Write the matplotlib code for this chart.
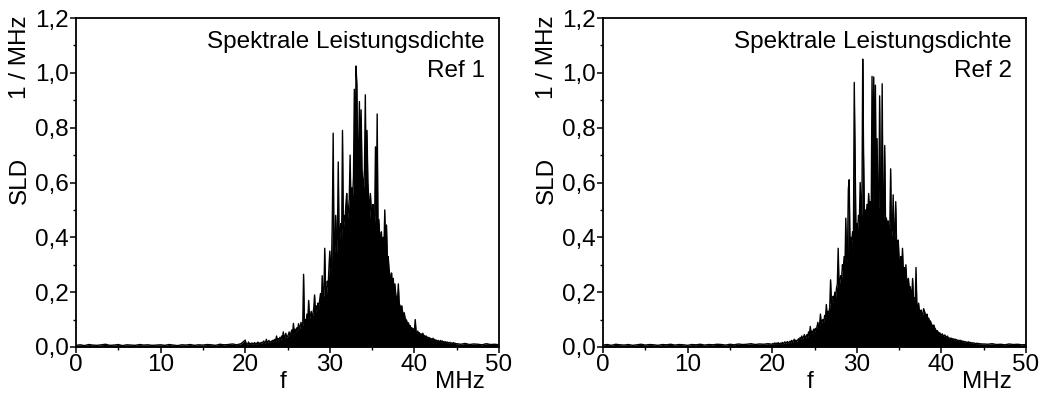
import numpy as np
import matplotlib
matplotlib.use("Agg")
import matplotlib.pyplot as plt
from matplotlib.ticker import MultipleLocator, FuncFormatter

plt.rcParams['font.family'] = ['Liberation Sans', 'DejaVu Sans']

# baseline (0.5 MHz steps) outside the active band
base_lo_1 = [0.006, 0.008, 0.005, 0.009, 0.007, 0.006, 0.008, 0.010, 0.006, 0.007,
             0.009, 0.005, 0.008, 0.007, 0.006, 0.009, 0.007, 0.008, 0.006, 0.007,
             0.008, 0.006, 0.009, 0.007, 0.005, 0.008, 0.007, 0.009, 0.006, 0.008,
             0.007, 0.009, 0.008, 0.006, 0.010, 0.008, 0.009, 0.011, 0.008, 0.012]
base_hi_1 = [0.012, 0.010, 0.013, 0.009, 0.011, 0.010, 0.008, 0.012, 0.009, 0.010, 0.008]

base_lo_2 = [0.007, 0.009, 0.006, 0.010, 0.008, 0.007, 0.009, 0.006, 0.008, 0.010,
             0.007, 0.009, 0.008, 0.006, 0.009, 0.008, 0.010, 0.007, 0.009, 0.008,
             0.006, 0.009, 0.008, 0.010, 0.007, 0.009, 0.008, 0.010, 0.009, 0.007,
             0.010, 0.008, 0.011, 0.009, 0.010, 0.012, 0.009, 0.011, 0.010, 0.012]
base_hi_2 = [0.011, 0.010, 0.012, 0.009, 0.010, 0.008, 0.011, 0.009, 0.010, 0.008, 0.009]

# 20.0 .. 44.9 MHz, 0.1 MHz steps, one row per MHz
band_1 = [
    0.025, 0.014, 0.008, 0.012, 0.018, 0.010, 0.013, 0.009, 0.015, 0.011,
    0.012, 0.016, 0.010, 0.014, 0.011, 0.018, 0.013, 0.015, 0.012, 0.017,
    0.014, 0.018, 0.022, 0.013, 0.016, 0.028, 0.015, 0.019, 0.024, 0.017,
    0.018, 0.022, 0.016, 0.025, 0.020, 0.028, 0.019, 0.040, 0.024, 0.030,
    0.028, 0.035, 0.025, 0.040, 0.030, 0.055, 0.033, 0.038, 0.050, 0.036,
    0.038, 0.045, 0.055, 0.040, 0.050, 0.062, 0.045, 0.086, 0.048, 0.065,
    0.055, 0.070, 0.060, 0.085, 0.065, 0.075, 0.090, 0.070, 0.080, 0.265,
    0.085, 0.100, 0.090, 0.120, 0.095, 0.170, 0.105, 0.115, 0.130, 0.110,
    0.120, 0.140, 0.190, 0.125, 0.150, 0.135, 0.160, 0.145, 0.170, 0.195,
    0.150, 0.260, 0.175, 0.190, 0.360, 0.210, 0.185, 0.240, 0.220, 0.290,
    0.350, 0.280, 0.300, 0.470, 0.780, 0.320, 0.360, 0.480, 0.340, 0.400,
    0.675, 0.380, 0.420, 0.450, 0.400, 0.790, 0.430, 0.480, 0.460, 0.520,
    0.560, 0.470, 0.500, 0.540, 0.700, 0.520, 0.580, 0.550, 0.620, 0.940,
    0.600, 1.025, 0.955, 0.640, 0.700, 0.895, 0.620, 0.865, 0.650, 0.600,
    0.580, 0.650, 0.920, 0.560, 0.790, 0.600, 0.540, 0.470, 0.560, 0.500,
    0.480, 0.520, 0.450, 0.460, 0.730, 0.480, 0.850, 0.420, 0.465, 0.400,
    0.380, 0.420, 0.350, 0.400, 0.360, 0.500, 0.340, 0.445, 0.320, 0.330,
    0.285, 0.260, 0.240, 0.270, 0.220, 0.250, 0.200, 0.230, 0.190, 0.180,
    0.170, 0.230, 0.160, 0.150, 0.140, 0.150, 0.130, 0.110, 0.125, 0.105,
    0.100, 0.095, 0.080, 0.088, 0.072, 0.078, 0.065, 0.070, 0.060, 0.066,
    0.060, 0.100, 0.055, 0.050, 0.058, 0.045, 0.052, 0.042, 0.048, 0.040,
    0.050, 0.038, 0.042, 0.035, 0.040, 0.032, 0.036, 0.030, 0.034, 0.028,
    0.030, 0.026, 0.032, 0.024, 0.028, 0.022, 0.025, 0.020, 0.024, 0.021,
    0.020, 0.024, 0.018, 0.022, 0.017, 0.020, 0.016, 0.019, 0.015, 0.018,
    0.016, 0.014, 0.017, 0.013, 0.015, 0.012, 0.016, 0.013, 0.014, 0.012,
]

band_2 = [
    0.010, 0.013, 0.009, 0.015, 0.011, 0.014, 0.010, 0.016, 0.012, 0.013,
    0.014, 0.011, 0.017, 0.012, 0.015, 0.019, 0.013, 0.016, 0.020, 0.014,
    0.017, 0.021, 0.015, 0.024, 0.018, 0.022, 0.028, 0.019, 0.025, 0.021,
    0.024, 0.030, 0.022, 0.035, 0.027, 0.040, 0.030, 0.036, 0.045, 0.032,
    0.038, 0.045, 0.035, 0.055, 0.042, 0.075, 0.048, 0.058, 0.050, 0.065,
    0.055, 0.068, 0.060, 0.075, 0.090, 0.065, 0.080, 0.120, 0.085, 0.095,
    0.100, 0.090, 0.115, 0.105, 0.155, 0.110, 0.130, 0.120, 0.145, 0.245,
    0.160, 0.150, 0.185, 0.170, 0.200, 0.180, 0.215, 0.230, 0.360, 0.220,
    0.240, 0.260, 0.250, 0.300, 0.280, 0.330, 0.290, 0.470, 0.310, 0.340,
    0.575, 0.610, 0.360, 0.400, 0.380, 0.420, 0.390, 0.965, 0.680, 0.420,
    0.450, 0.430, 0.480, 0.460, 0.600, 0.500, 0.470, 1.050, 0.705, 0.480,
    0.500, 0.460, 0.520, 0.480, 0.560, 0.490, 0.530, 0.470, 0.987, 0.500,
    0.985, 0.540, 0.955, 0.510, 0.760, 0.480, 0.520, 0.916, 0.500, 0.470,
    0.960, 0.480, 0.450, 0.735, 0.440, 0.470, 0.430, 0.460, 0.410, 0.440,
    0.650, 0.400, 0.430, 0.555, 0.390, 0.410, 0.530, 0.380, 0.360, 0.390,
    0.320, 0.300, 0.330, 0.280, 0.360, 0.270, 0.290, 0.250, 0.300, 0.240,
    0.230, 0.250, 0.210, 0.220, 0.200, 0.190, 0.250, 0.170, 0.180, 0.160,
    0.290, 0.150, 0.140, 0.160, 0.130, 0.125, 0.135, 0.115, 0.120, 0.140,
    0.130, 0.120, 0.110, 0.120, 0.100, 0.105, 0.090, 0.095, 0.085, 0.080,
    0.075, 0.080, 0.070, 0.065, 0.053, 0.060, 0.055, 0.050, 0.052, 0.046,
    0.045, 0.048, 0.042, 0.040, 0.044, 0.038, 0.036, 0.040, 0.034, 0.032,
    0.033, 0.030, 0.032, 0.028, 0.030, 0.026, 0.029, 0.025, 0.027, 0.024,
    0.024, 0.022, 0.025, 0.020, 0.023, 0.019, 0.021, 0.018, 0.020, 0.017,
    0.018, 0.016, 0.019, 0.015, 0.017, 0.014, 0.016, 0.013, 0.015, 0.014,
    0.013, 0.012, 0.014, 0.011, 0.013, 0.012, 0.011, 0.012, 0.010, 0.011,
]

x_ticks = [0, 10, 20, 30, 40, 50]
y_ticks = [0.0, 0.2, 0.4, 0.6, 0.8, 1.0, 1.2]
titles = ["Ref 1", "Ref 2"]

FS = 17.5
W, H = 1043, 394
fig = plt.figure(figsize=(W / 100, H / 100), dpi=100)


def freq_axis():
    f_lo = np.arange(0, 20, 0.5)
    f_band = np.round(np.arange(200, 450) / 10.0, 1)
    f_hi = np.arange(45, 50.01, 0.5)
    return np.concatenate([f_lo, f_band, f_hi])


def draw_panel(left_px, right_px, lo, band, hi, title):
    ax = fig.add_axes([left_px / W, (H - 347) / H, (right_px - left_px) / W, 329 / H])
    f = freq_axis()
    s = np.array(lo + band + hi)
    ax.fill_between(f, 0, s, color='black', linewidth=0)
    ax.plot(f, s, color='black', linewidth=1.0)
    ax.set_xlim(0, 50)
    ax.set_ylim(0, 1.2)
    ax.set_xticks(x_ticks)
    ax.set_yticks(y_ticks)
    ax.xaxis.set_minor_locator(MultipleLocator(5))
    ax.yaxis.set_minor_locator(MultipleLocator(0.1))
    ax.yaxis.set_major_formatter(FuncFormatter(lambda v, p: f"{v:.1f}".replace('.', ',')))
    ax.tick_params(which='major', direction='out', length=4, width=1.1, labelsize=FS, pad=1)
    ax.tick_params(which='minor', direction='out', length=2.5, width=1.0)
    for sp in ax.spines.values():
        sp.set_linewidth(1.3)

    def px(x, y):
        return x / W, 1 - y / H

    fig.text(*px(right_px - 14, 42), "Spektrale Leistungsdichte", fontsize=FS,
             ha='right', va='center')
    fig.text(*px(right_px - 14, 71), title, fontsize=FS, ha='right', va='center')
    fig.text(*px(left_px - 56, 180), "SLD", fontsize=FS, rotation=90, ha='center', va='center')
    fig.text(*px(left_px - 56, 57), "1 / MHz", fontsize=FS, rotation=90, ha='center', va='center')
    fig.text(*px(left_px + 207, 382), "f", fontsize=FS, ha='center', va='center')
    fig.text(*px(right_px - 39, 382), "MHz", fontsize=FS, ha='center', va='center')
    return ax


draw_panel(76, 499, base_lo_1, band_1, base_hi_1, titles[0])
draw_panel(603, 1026, base_lo_2, band_2, base_hi_2, titles[1])

fig.savefig("out.png", dpi=100)
